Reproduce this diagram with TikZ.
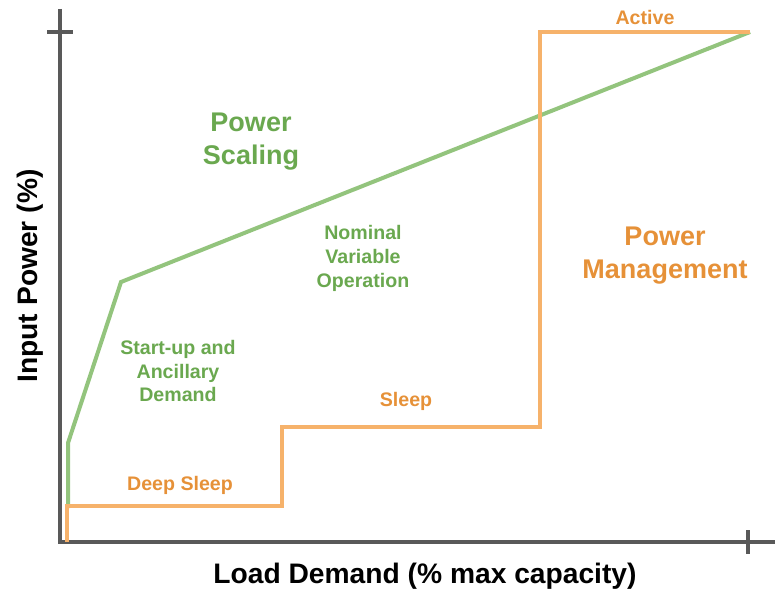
\documentclass[tikz,border=0pt]{standalone}
\usepackage{fontspec}
\setmainfont{Liberation Sans}
\definecolor{axisgray}{HTML}{595959}
\definecolor{glinecol}{HTML}{93C47D}
\definecolor{gtextcol}{HTML}{6AA84F}
\definecolor{olinecol}{HTML}{F6B26B}
\definecolor{otextcol}{HTML}{E69138}
\begin{document}
\begin{tikzpicture}[x=1pt,y=-1pt,
  axisline/.style={draw=axisgray,line width=4.2pt},
  gline/.style={draw=glinecol,line width=4pt,line join=miter},
  oline/.style={draw=olinecol,line width=4pt,line join=miter},
  bigtxt/.style={inner sep=0pt,align=center,font=\bfseries\fontsize{27}{33}\selectfont},
  smalltxt/.style={inner sep=0pt,align=center,font=\bfseries\fontsize{19.6}{23.8}\selectfont},
  axtxt/.style={inner sep=0pt,font=\bfseries\fontsize{28.2}{34}\selectfont,text=black}]
\useasboundingbox (0,0) rectangle (775,591);
% axes
\coordinate (ytop) at (60,9);
\coordinate (origin) at (60,542);
\coordinate (xend) at (775,542);
\coordinate (ytl) at (47,32);
\coordinate (ytr) at (73,32);
\coordinate (xtt) at (748,530);
\coordinate (xtb) at (748,554);
\draw[axisline] (ytop) -- (origin) -- (xend);
\draw[axisline] (ytl) -- (ytr);
\draw[axisline] (xtt) -- (xtb);
% green curve
\coordinate (g0) at (68,508);
\coordinate (g1) at (68,443);
\coordinate (g2) at (121,282);
\coordinate (g3) at (750,32);
\draw[gline] (g0) -- (g1) -- (g2) -- (g3);
% orange curve
\coordinate (o0) at (67,542);
\coordinate (o1) at (67,506);
\coordinate (o2) at (282,506);
\coordinate (o3) at (282,427);
\coordinate (o4) at (540,427);
\coordinate (o5) at (540,32);
\coordinate (o6) at (750,32);
\draw[oline] (o0) -- (o1) -- (o2) -- (o3) -- (o4) -- (o5) -- (o6);
% labels
\node[bigtxt,text=gtextcol] (ps) at (251,141.5) {Power\\Scaling};
\node[smalltxt,text=gtextcol] (nvo) at (363,258.5) {Nominal\\Variable\\Operation};
\node[smalltxt,text=gtextcol] (sad) at (178,371) {Start-up and\\Ancillary\\Demand};
\node[bigtxt,text=otextcol] (pm) at (665,256) {Power\\Management};
\node[smalltxt,text=otextcol,anchor=base] (ds) at (180,490) {Deep Sleep};
\node[smalltxt,text=otextcol,anchor=base] (sl) at (406,406) {Sleep};
\node[smalltxt,text=otextcol,anchor=base] (ac) at (645,25) {Active};
\node[axtxt,anchor=base] (xl) at (425,583) {Load Demand (\% max capacity)};
\node[axtxt,anchor=base,rotate=90] (yl) at (37,276) {Input Power (\%)};
\end{tikzpicture}
\end{document}
